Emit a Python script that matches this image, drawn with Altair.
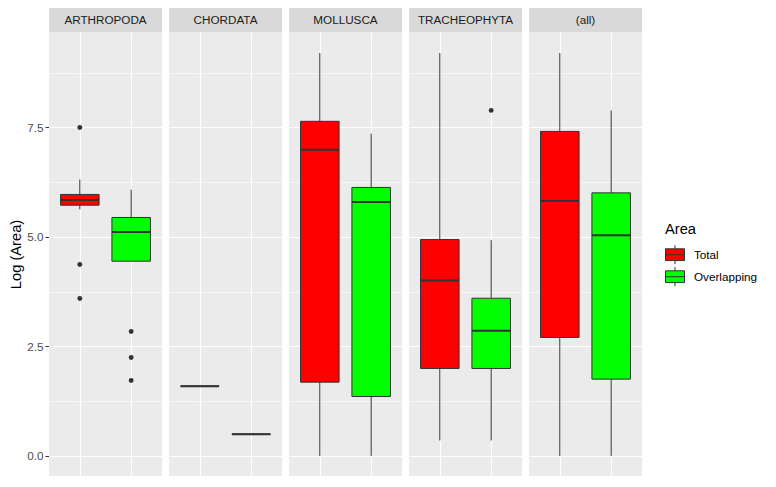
import altair as alt
import pandas as pd

panels = ["ARTHROPODA", "CHORDATA", "MOLLUSCA", "TRACHEOPHYTA", "(all)"]
areas = ["Total", "Overlapping"]

total_min = [5.63, 1.592, 0.0, 0.352, 0.0]
total_q1 = [5.725, 1.592, 1.683, 1.996, 2.704]
total_med = [5.846, 1.592, 6.99, 4.005, 5.823]
total_q3 = [5.97, 1.592, 7.64, 4.94, 7.41]
total_max = [6.31, 1.592, 9.2, 9.2, 9.2]

over_min = [4.446, 0.496, 0.0, 0.352, 0.0]
over_q1 = [4.446, 0.496, 1.356, 1.996, 1.752]
over_med = [5.115, 0.496, 5.80, 2.855, 5.04]
over_q3 = [5.444, 0.496, 6.13, 3.60, 6.006]
over_max = [6.08, 0.496, 7.36, 4.926, 7.89]

out_panel = ["ARTHROPODA", "ARTHROPODA", "ARTHROPODA",
             "ARTHROPODA", "ARTHROPODA", "ARTHROPODA", "TRACHEOPHYTA"]
out_area = ["Total", "Total", "Total",
            "Overlapping", "Overlapping", "Overlapping", "Overlapping"]
out_value = [7.50, 4.37, 3.594, 2.84, 2.247, 1.722, 7.89]

rows = []
for i, p in enumerate(panels):
    rows.append(dict(Panel=p, Area="Total", pos=1, kind="box", ymin=total_min[i],
                     q1=total_q1[i], med=total_med[i], q3=total_q3[i], ymax=total_max[i]))
    rows.append(dict(Panel=p, Area="Overlapping", pos=2, kind="box", ymin=over_min[i],
                     q1=over_q1[i], med=over_med[i], q3=over_q3[i], ymax=over_max[i]))
for p, a, v in zip(out_panel, out_area, out_value):
    rows.append(dict(Panel=p, Area=a, pos=1 if a == "Total" else 2, kind="out", out=v))
df = pd.DataFrame(rows)

FONT = "Liberation Sans"
LINE = "#333333"

x_scale = alt.Scale(domain=[0.4, 2.6], nice=False, zero=False)
y_scale = alt.Scale(domain=[-0.46, 9.68], nice=False, zero=False)
x_axis = alt.Axis(values=[1, 2], labels=False, ticks=False, domain=False, title=None,
                  grid=True, gridColor="white", gridWidth=1.1)
y_axis = alt.Axis(
    values=[0, 1.25, 2.5, 3.75, 5, 6.25, 7.5, 8.75],
    labelExpr="datum.value % 2.5 == 0 ? format(datum.value, '.1f') : ''",
    domain=False, grid=True, gridColor="white",
    gridWidth={"condition": {"test": "datum.value % 2.5 != 0", "value": 0.55}, "value": 1.1},
    tickSize={"condition": {"test": "datum.value % 2.5 != 0", "value": 0}, "value": 4},
    tickColor=LINE, labelColor="#4D4D4D", labelFontSize=11.7, labelFont=FONT, labelPadding=2,
    title="Log (Area)", titleFont=FONT, titleFontSize=14.7, titleFontWeight="normal",
    titleColor="black", titlePadding=3,
)


def X(field):
    return alt.X(field, scale=x_scale, axis=x_axis)


def Y(field):
    return alt.Y(field, scale=y_scale, axis=y_axis, title="Log (Area)")


base = alt.Chart().transform_calculate(lo="datum.pos - 0.375", hi="datum.pos + 0.375")
boxes = base.transform_filter("datum.kind == 'box'")

whisk_lo = boxes.mark_rule(color=LINE, strokeWidth=1).encode(x=X("pos:Q"), y=Y("ymin:Q"), y2="q1:Q")
whisk_hi = boxes.mark_rule(color=LINE, strokeWidth=1).encode(x=X("pos:Q"), y=Y("q3:Q"), y2="ymax:Q")
box = boxes.mark_bar(stroke=LINE, strokeWidth=1, opacity=1).encode(
    x=X("lo:Q"), x2="hi:Q", y=Y("q1:Q"), y2="q3:Q",
    fill=alt.Fill("Area:N", sort=areas,
                  scale=alt.Scale(domain=areas, range=["#FF0000", "#00FF00"]),
                  legend=alt.Legend(
                      title="Area", orient="none", legendX=616, legendY=190,
                      symbolType="M-1,-0.62H1V0.62H-1Z M-1,0H1 M0,-1V-0.62 M0,0.62V1",
                      symbolSize=361, symbolStrokeColor=LINE, symbolStrokeWidth=1,
                      labelFont=FONT, labelFontSize=11.7, labelColor="black", labelOffset=9,
                      titleFont=FONT, titleFontSize=14.7, titleFontWeight="normal",
                      titleColor="black", titlePadding=8, rowPadding=-2)),
)
median = boxes.mark_rule(color=LINE, strokeWidth=2).encode(x=X("lo:Q"), x2="hi:Q", y=Y("med:Q"))
outl = base.transform_filter("datum.kind == 'out'").mark_circle(
    color=LINE, size=24, opacity=1).encode(x=X("pos:Q"), y=Y("out:Q"))

strips = boxes.transform_filter("datum.Area == 'Total'")
strip_rect = strips.mark_rect(fill="#D9D9D9").encode(
    x=alt.value(0), x2=alt.value(113), y=alt.value(-24), y2=alt.value(0))
strip_text = strips.mark_text(font=FONT, fontSize=11.7, color="#1A1A1A", baseline="middle").encode(
    x=alt.value(56.5), y=alt.value(-12), text="Panel:N")

chart = alt.layer(whisk_lo, whisk_hi, box, median, outl, strip_rect, strip_text, data=df).properties(
    width=113, height=444
).facet(
    column=alt.Column("Panel:N", sort=panels, header=alt.Header(labels=False, title=None)),
    spacing=7,
).properties(
    padding={"left": 0, "top": 0, "right": 5, "bottom": 0}
).configure_view(fill="#EBEBEB", strokeWidth=0)

chart.save("out.html", embed_options={"renderer": "svg", "actions": False})
